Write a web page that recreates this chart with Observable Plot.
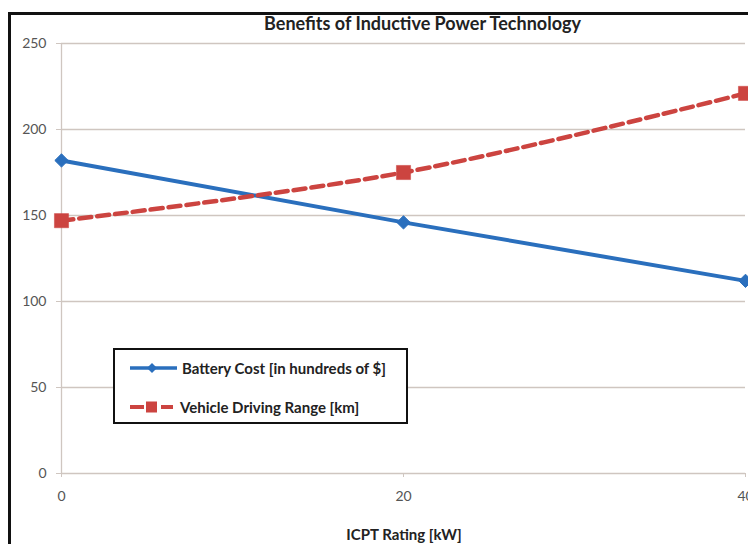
<!DOCTYPE html>
<html>
<head>
<meta charset="utf-8">
<script src="https://cdn.jsdelivr.net/npm/d3@7"></script>
<script src="https://cdn.jsdelivr.net/npm/@observablehq/plot@0.6"></script>
<style>
  html, body { margin: 0; padding: 0; background: #fff; overflow: hidden; }
  #wrap { position: relative; width: 748px; height: 544px; overflow: hidden; font-family: Lato, "Open Sans", sans-serif; }
  #frame { position: absolute; left: 8px; top: 12px; width: 800px; height: 600px; border: 3px solid #111; box-sizing: border-box; pointer-events: none; }
  #title { position: absolute; left: 0; width: 845px; top: 12px; text-align: center; font-weight: bold; font-size: 18px; color: #222; }
  #xlabel { position: absolute; left: 0; width: 808px; top: 525px; text-align: center; font-weight: bold; font-size: 15px; color: #222; }
  #legend { position: absolute; left: 113px; top: 348px; width: 295px; height: 76px; border: 2.5px solid #111; box-sizing: border-box; background: #fff; font-weight: bold; font-size: 15px; color: #222; }
  .row { position: absolute; left: 14px; height: 20px; display: flex; align-items: center; white-space: nowrap; }
  .row svg { margin-right: 3px; }
</style>
</head>
<body>
<div id="wrap">
  <div id="chart"></div>
  <div id="title"></div>
  <div id="xlabel"></div>
  <div id="legend"></div>
  <div id="frame"></div>
</div>
<script>
const title = "Benefits of Inductive Power Technology";
const xLabel = "ICPT Rating [kW]";
const ratings = [0, 20, 40];
const batteryCost = [182, 146, 112];
const drivingRange = [147, 175, 221];
const seriesNames = ["Battery Cost [in hundreds of $]", "Vehicle Driving Range [km]"];
const yTicks = [0, 50, 100, 150, 200, 250];
const xTicks = [0, 20, 40];

const blue = "#2a6fbd";
const red = "#cc4440";
const gridColor = "#cfc6c0";

const battery = ratings.map((r, i) => ({x: r, y: batteryCost[i]}));
const range = ratings.map((r, i) => ({x: r, y: drivingRange[i]}));

const chart = Plot.plot({
  width: 748,
  height: 544,
  marginLeft: 61,
  marginRight: 3,
  marginTop: 43,
  marginBottom: 71,
  style: {background: "transparent", fontFamily: "Lato, 'Open Sans', sans-serif", fontSize: "14px", color: "#555"},
  x: {domain: [0, 40], label: null},
  y: {domain: [0, 250], label: null},
  marks: [
    Plot.ruleY(yTicks, {stroke: gridColor, strokeWidth: 1.3}),
    Plot.ruleX([0], {stroke: gridColor, strokeWidth: 1.3}),
    Plot.axisX({ticks: xTicks, tickSize: 4, tickPadding: 14, stroke: gridColor, fill: "#555", label: null, fontSize: 14, tickFormat: d => String(d)}),
    Plot.axisY({ticks: yTicks, tickSize: 5, tickPadding: 10, stroke: gridColor, fill: "#555", label: null, fontSize: 14}),
    Plot.line(battery, {x: "x", y: "y", stroke: blue, strokeWidth: 4}),
    Plot.dot(battery, {x: "x", y: "y", symbol: "diamond2", r: 6, fill: blue, stroke: blue, strokeWidth: 1}),
    Plot.line(range, {x: "x", y: "y", stroke: red, strokeWidth: 4.5, strokeDasharray: "12,6", curve: "catmull-rom"}),
    Plot.dot(range, {x: "x", y: "y", symbol: "square", r: 8, fill: red, stroke: red, strokeWidth: 0.5})
  ]
});
document.getElementById("chart").appendChild(chart);
document.getElementById("title").textContent = title;
document.getElementById("xlabel").textContent = xLabel;

const legend = document.getElementById("legend");
const sw1 = `<svg width="50" height="14"><line x1="1" y1="7" x2="48" y2="7" stroke="${blue}" stroke-width="3.5"/><path d="M23 2 L28 7 L23 12 L18 7 Z" fill="${blue}"/></svg>`;
const sw2 = `<svg width="48" height="14"><line x1="1" y1="7" x2="15" y2="7" stroke="${red}" stroke-width="4"/><rect x="17" y="1.5" width="11" height="11" fill="${red}"/><line x1="32" y1="7" x2="44" y2="7" stroke="${red}" stroke-width="4"/></svg>`;
legend.innerHTML = `<div class="row" style="top:8px">${sw1}<span>${seriesNames[0]}</span></div>` +
                   `<div class="row" style="top:47px">${sw2}<span>${seriesNames[1]}</span></div>`;
</script>
</body>
</html>
